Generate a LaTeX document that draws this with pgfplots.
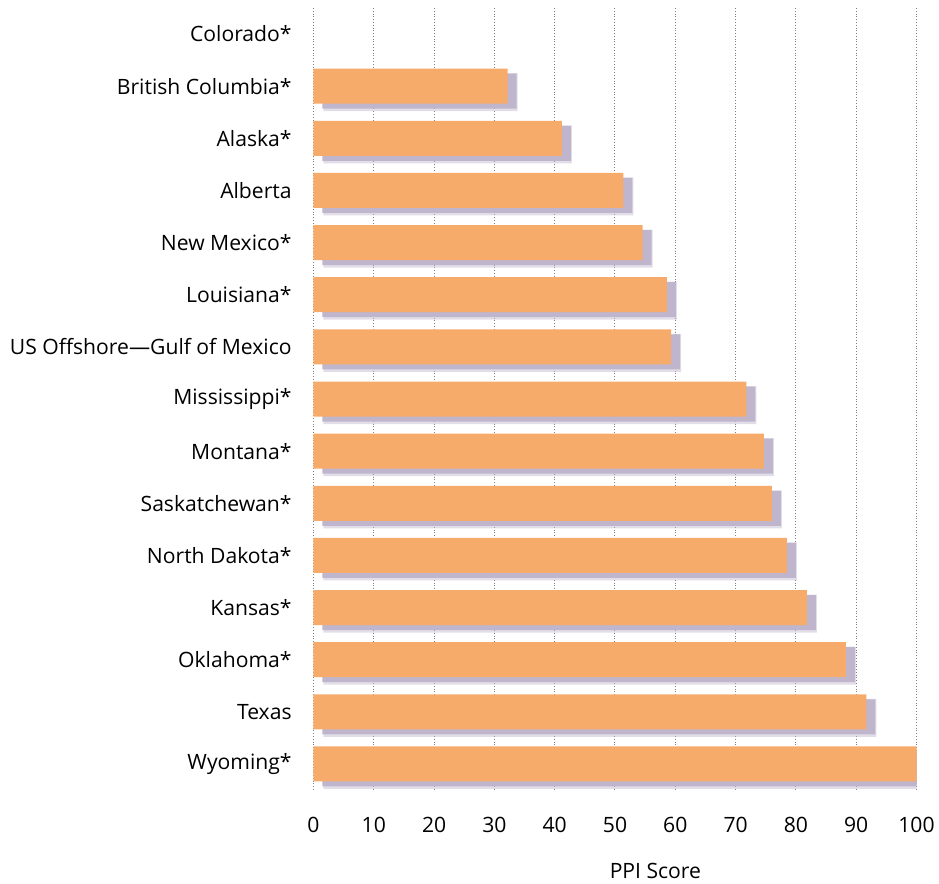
\documentclass[border=0pt]{standalone}
\usepackage{pgfplots}
\pgfplotsset{compat=1.18}
\usepackage{pgfplotstable}
\usepackage{fontspec}
\setmainfont{Open Sans}
\definecolor{barc}{HTML}{F7AB6B}
\definecolor{shadc}{HTML}{BFB5CC}
\pgfplotstableread{
idx v
1 32.2
2 41.2
3 51.4
4 54.6
5 58.6
6 59.3
7 71.8
8 74.7
9 76.0
10 78.5
11 81.8
12 88.3
13 91.7
14 100
}\data
\begin{document}
\begin{tikzpicture}
\begin{axis}[name=ax, scale only axis, width=301.5bp, height=391bp,
 xmin=0, xmax=100, ymin=-0.5, ymax=14.5, y dir=reverse,
 xtick={0,10,...,100}, ytick={0,...,14},
 yticklabels={Colorado*, British Columbia*, Alaska*, Alberta, New Mexico*, Louisiana*, US Offshore---Gulf of Mexico, Mississippi*, Montana*, Saskatchewan*, North Dakota*, Kansas*, Oklahoma*, Texas, Wyoming*},
 major tick length=0pt,
 xmajorgrids, grid style={gray, densely dotted, line width=0.5bp},
 axis line style={draw=none},
 xbar, bar width=17.5bp,
 tick label style={font=\fontsize{10.6}{12}\selectfont},
 label style={font=\fontsize{10.6}{12}\selectfont},
 y tick label style={anchor=east, inner sep=0pt, xshift=-10.75bp},
 x tick label style={anchor=north, inner sep=0pt, yshift=-13.5bp},
 /pgf/number format/assume math mode=true,
 xlabel={PPI Score},
 xlabel style={at={(axis description cs:0.567,0)}, anchor=center, yshift=-40.5bp, inner sep=0pt},
]
\addplot[fill=shadc, fill opacity=0.45, draw=none, xshift=5bp, yshift=-3bp, bar width=19bp, bar shift=0pt] table[x=v,y=idx]{\data};
\addplot[fill=shadc, draw=none, xshift=4.5bp, yshift=-2.5bp, bar shift=0pt] table[x=v,y=idx]{\data};
\addplot[fill=barc, draw=none, bar shift=0pt] table[x=v,y=idx]{\data};
\end{axis}
\path ([xshift=-156.75bp,yshift=-47bp]ax.south west) rectangle ([xshift=312.75bp, yshift=4bp]ax.north west);
\end{tikzpicture}
\end{document}
